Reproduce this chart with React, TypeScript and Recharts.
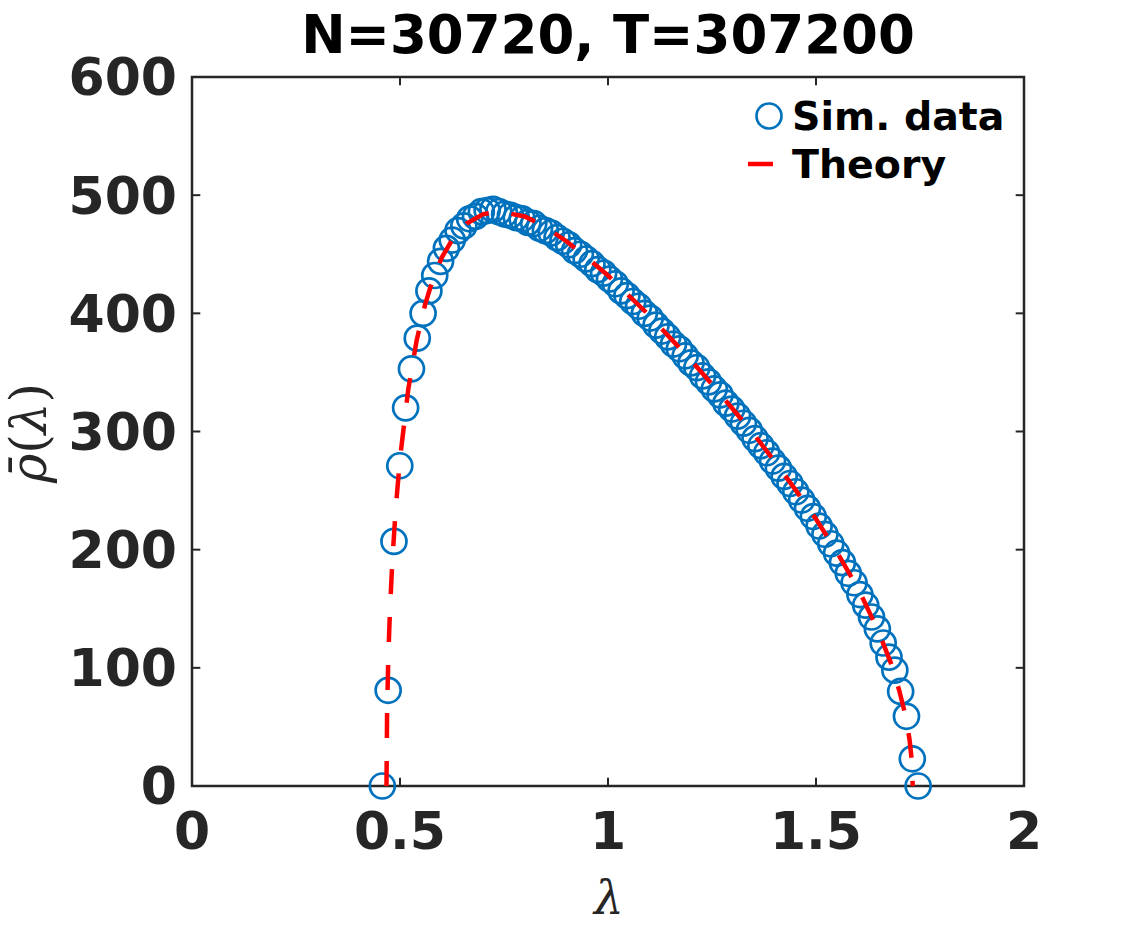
import React from "react"
import {
  ComposedChart,
  Scatter,
  XAxis,
  YAxis,
  Legend,
  ReferenceArea,
  ReferenceLine,
} from "recharts"

// bin centres of the simulated spectrum
const simLambda = [
  0.4575, 0.4715, 0.4855, 0.4995, 0.5135, 0.5275, 0.5415, 0.5555, 0.5695, 0.5835,
  0.5975, 0.6115, 0.6255, 0.6395, 0.6535, 0.6675, 0.6815, 0.6955, 0.7095, 0.7235,
  0.7375, 0.7515, 0.7655, 0.7795, 0.7935, 0.8075, 0.8215, 0.8355, 0.8495, 0.8635,
  0.8775, 0.8915, 0.9055, 0.9195, 0.9335, 0.9475, 0.9615, 0.9755, 0.9895, 1.0035,
  1.0175, 1.0315, 1.0455, 1.0595, 1.0735, 1.0875, 1.1015, 1.1155, 1.1295, 1.1435,
  1.1575, 1.1715, 1.1855, 1.1995, 1.2135, 1.2275, 1.2415, 1.2555, 1.2695, 1.2835,
  1.2975, 1.3115, 1.3255, 1.3395, 1.3535, 1.3675, 1.3815, 1.3955, 1.4095, 1.4235,
  1.4375, 1.4515, 1.4655, 1.4795, 1.4935, 1.5075, 1.5215, 1.5355, 1.5495, 1.5635,
  1.5775, 1.5915, 1.6055, 1.6195, 1.6335, 1.6475, 1.6615, 1.6755, 1.6895, 1.7035,
  1.7175, 1.7315, 1.7455,
]

const simRho = [
  0, 81, 207, 271, 320, 353, 379, 400, 419, 432,
  444, 455, 462, 470, 474, 480, 482, 486, 487, 488,
  486, 484, 483, 481, 480, 477, 476, 472, 470, 468,
  464, 461, 458, 453, 450, 446, 442, 437, 434, 429,
  425, 419, 415, 410, 406, 400, 396, 390, 385, 380,
  374, 370, 364, 358, 354, 347, 342, 336, 331, 324,
  319, 313, 307, 301, 294, 288, 282, 275, 269, 262,
  256, 249, 242, 235, 228, 220, 213, 205, 197, 189,
  180, 172, 162, 153, 143, 133, 121, 109, 98, 80,
  59, 23, 0,
]

const theoryLambda = [
  0.4675, 0.469, 0.472, 0.476, 0.482, 0.49, 0.5, 0.52, 0.54, 0.56,
  0.58, 0.6, 0.63, 0.66, 0.7, 0.74, 0.8, 0.85, 0.9, 0.95,
  1.0, 1.05, 1.1, 1.15, 1.2, 1.25, 1.3, 1.35, 1.4, 1.45,
  1.5, 1.55, 1.6, 1.65, 1.68, 1.7, 1.715, 1.725, 1.73, 1.7325,
]

const theoryRho = [
  0, 64, 110, 150, 193, 236, 277, 336, 377, 407,
  430, 447, 465, 476, 484, 486, 482, 473, 461, 447,
  432, 415, 398, 379, 360, 340, 319, 298, 275, 251,
  226, 198, 168, 131, 104, 81, 60, 39, 22, 0,
]

const xTicks = [0, 0.5, 1, 1.5, 2]
const yTicks = [0, 100, 200, 300, 400, 500, 600]

const simData = simLambda.map((x, i) => ({ x, y: simRho[i] }))
const theoryData = theoryLambda.map((x, i) => ({ x, y: theoryRho[i] }))

const BLUE = "#0072BD"
const RED = "#FF0000"
const AXIS = "#262626"
const FONT = "'DejaVu Sans', sans-serif"

// inward tick length, in data units (about 8px)
const TICK_X = 0.02
const TICK_Y = 7

const tickStyle = {
  fontFamily: FONT,
  fontWeight: "bold" as const,
  fontSize: 52,
  fill: AXIS,
}

function OpenCircle(props: any) {
  const { cx, cy } = props
  return <circle cx={cx} cy={cy} r={12.5} fill="none" stroke={BLUE} strokeWidth={2.7} />
}

function NoMarker() {
  return <g />
}

function LegendBox() {
  return (
    <svg width={290} height={120}>
      <circle cx={34} cy={36} r={12.5} fill="none" stroke={BLUE} strokeWidth={2.7} />
      <text x={57} y={50} fontFamily={FONT} fontWeight="bold" fontSize={39.5} fill="#000">
        Sim. data
      </text>
      <line x1={13} y1={84} x2={38} y2={84} stroke={RED} strokeWidth={4.5} />
      <text x={57} y={98} fontFamily={FONT} fontWeight="bold" fontSize={39.5} fill="#000">
        Theory
      </text>
    </svg>
  )
}

export default function App() {
  return (
    <div style={{ position: "absolute", left: 0, top: 0, width: 1132, height: 927, background: "#fff" }}>
      <ComposedChart
        width={1132}
        height={927}
        margin={{ top: 77, right: 108, left: 72, bottom: 81 }}
      >
        <XAxis
          dataKey="x"
          type="number"
          domain={[0, 2]}
          ticks={xTicks}
          height={60}
          axisLine={false}
          tickLine={false}
          tickSize={0}
          tickMargin={26}
          tick={tickStyle}
        />
        <YAxis
          dataKey="y"
          type="number"
          domain={[0, 600]}
          ticks={yTicks}
          width={120}
          axisLine={false}
          tickLine={false}
          tickSize={0}
          tickMargin={15}
          tick={tickStyle}
        />
        {xTicks.map((t) => (
          <ReferenceLine
            key={"b" + t}
            segment={[{ x: t, y: 0 }, { x: t, y: TICK_Y }]}
            stroke={AXIS}
            strokeWidth={2}
          />
        ))}
        {xTicks.map((t) => (
          <ReferenceLine
            key={"t" + t}
            segment={[{ x: t, y: 600 }, { x: t, y: 600 - TICK_Y }]}
            stroke={AXIS}
            strokeWidth={2}
          />
        ))}
        {yTicks.map((t) => (
          <ReferenceLine
            key={"l" + t}
            segment={[{ x: 0, y: t }, { x: TICK_X, y: t }]}
            stroke={AXIS}
            strokeWidth={2}
          />
        ))}
        {yTicks.map((t) => (
          <ReferenceLine
            key={"r" + t}
            segment={[{ x: 2, y: t }, { x: 2 - TICK_X, y: t }]}
            stroke={AXIS}
            strokeWidth={2}
          />
        ))}
        <Scatter
          name="Sim. data"
          data={simData}
          dataKey="y"
          shape={OpenCircle}
          isAnimationActive={false}
        />
        <Scatter
          name="Theory"
          data={theoryData}
          dataKey="y"
          shape={NoMarker}
          line={{ stroke: RED, strokeWidth: 4.5, strokeDasharray: "25 23", fill: "none" }}
          lineType="joint"
          isAnimationActive={false}
        />
        <ReferenceArea
          x1={0}
          x2={2}
          y1={0}
          y2={600}
          fill="none"
          fillOpacity={0}
          stroke={AXIS}
          strokeWidth={2.5}
          strokeOpacity={1}
        />
        <Legend
          layout="vertical"
          align="center"
          verticalAlign="middle"
          content={() => <LegendBox />}
          wrapperStyle={{ top: 80, left: 735, width: 290, height: 120 }}
        />
      </ComposedChart>
      <svg
        width={1132}
        height={927}
        style={{ position: "absolute", left: 0, top: 0, pointerEvents: "none" }}
      >
        <text x={608} y={53} textAnchor="middle" fontFamily={FONT} fontWeight="bold" fontSize={53} fill="#000">
          N=30720, T=307200
        </text>
        <text x={609} y={914} textAnchor="middle" fontFamily="'DejaVu Serif', serif" fontStyle="italic" fontSize={47} fill={AXIS}>
          λ
        </text>
        <text
          transform="translate(46,433) rotate(-90)"
          textAnchor="middle"
          fontFamily="'DejaVu Serif', serif"
          fontSize={50}
          fill={AXIS}
        >
          <tspan fontStyle="italic">ρ̄</tspan>
          <tspan>(</tspan>
          <tspan fontStyle="italic">λ</tspan>
          <tspan>)</tspan>
        </text>
      </svg>
    </div>
  )
}
